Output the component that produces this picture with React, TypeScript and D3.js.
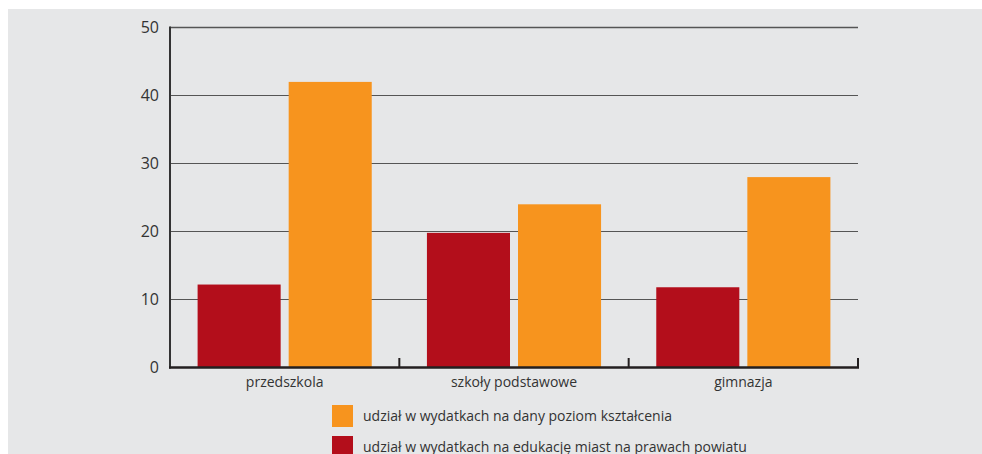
import React from 'react';
import * as d3 from 'd3';

const categories = ['przedszkola', 'szkoły podstawowe', 'gimnazja'];
const seriesNames = [
  'udział w wydatkach na edukację miast na prawach powiatu',
  'udział w wydatkach na dany poziom kształcenia',
];
const miastaValues = [12.2, 19.8, 11.8];
const poziomValues = [42.0, 24.0, 28.0];
const yTicks = [0, 10, 20, 30, 40, 50];

const colors = ['#b30e1b', '#f7941e'];
const W = 982;
const H = 454;

const App: React.FC = () => {
  const x = d3.scaleBand<string>().domain(categories).range([170, 858]).padding(0);
  const step = x.bandwidth();
  const inner = d3
    .scaleBand<string>()
    .domain(seriesNames)
    .range([27.6, step - 27.6])
    .paddingInner(0.088);
  const y = d3.scaleLinear().domain([0, 50]).range([367.5, 27.5]);

  const series = [miastaValues, poziomValues];
  const font = "'Open Sans', 'Noto Sans', sans-serif";

  // legend goes orange first, then red
  const legendOrder = [1, 0];

  return (
    <svg
      width={W}
      height={H}
      style={{ position: 'absolute', left: 0, top: 0 }}
      fontFamily={font}>
      <rect x={8} y={9} width={W - 8} height={H - 9} fill="#e6e7e8" />

      {/* siatka */}
      {yTicks.map((t) => (
        <line
          key={'g' + t}
          x1={170}
          x2={858}
          y1={y(t)}
          y2={y(t)}
          stroke="#555"
          strokeWidth={t === 50 ? 1.4 : 1.2}
        />
      ))}
      {yTicks.map((t) => (
        <text
          key={'l' + t}
          x={159}
          y={y(t)}
          dy="0.35em"
          textAnchor="end"
          fontSize={16}
          fill="#333">
          {t}
        </text>
      ))}

      {/* słupki */}
      {categories.map((c, i) => (
        <g key={c} transform={`translate(${x(c)},0)`}>
          {series.map((vals, s) => (
            <rect
              key={s}
              x={inner(seriesNames[s])}
              width={inner.bandwidth()}
              y={y(vals[i])}
              height={y(0) - y(vals[i])}
              fill={colors[s]}
            />
          ))}
          <text
            x={step / 2}
            y={387}
            textAnchor="middle"
            fontSize={14}
            fill="#333">
            {c}
          </text>
        </g>
      ))}

      {/* osie */}
      <line x1={170} x2={170} y1={26.5} y2={368.5} stroke="#333" strokeWidth={2} />
      <line x1={169} x2={859} y1={367.5} y2={367.5} stroke="#231f20" strokeWidth={2.5} />
      {categories.map((c) => (
        <line
          key={'t' + c}
          x1={(x(c) as number) + step}
          x2={(x(c) as number) + step}
          y1={358}
          y2={367}
          stroke="#231f20"
          strokeWidth={2}
        />
      ))}

      {/* legenda */}
      {legendOrder.map((s, k) => (
        <g key={'lg' + s} transform={`translate(332,${405 + k * 31})`}>
          <rect width={21} height={22} fill={colors[s]} />
          <text x={31} y={11} dy="0.35em" fontSize={14} fill="#333">
            {seriesNames[s]}
          </text>
        </g>
      ))}
    </svg>
  );
};

export default App;
